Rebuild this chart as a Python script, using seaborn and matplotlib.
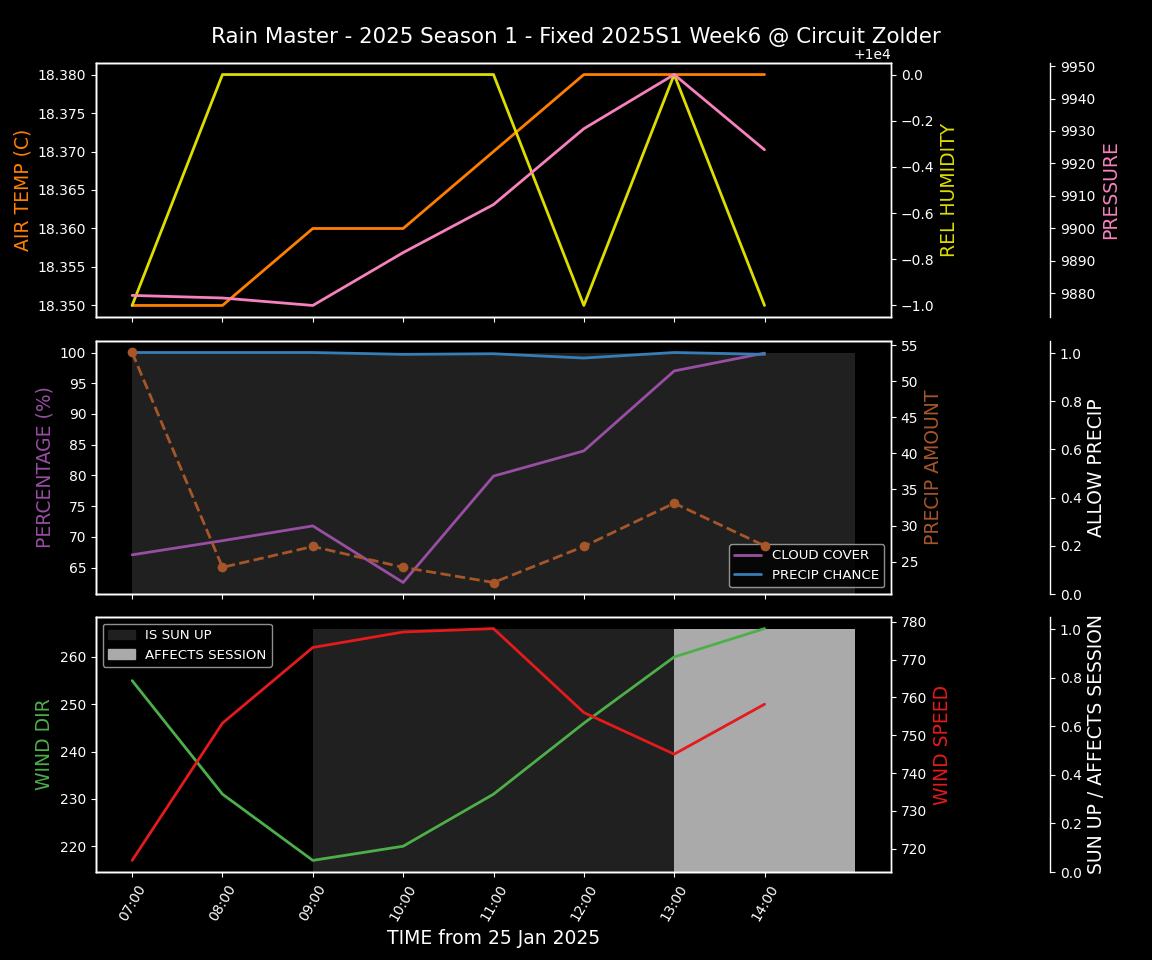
import matplotlib
matplotlib.use("Agg")
import matplotlib.pyplot as plt
import matplotlib.dates as mdates
from matplotlib.patches import Patch
import seaborn as sns
import pandas as pd

# ---------------- data ----------------
hours = ["07:00", "08:00", "09:00", "10:00", "11:00", "12:00", "13:00", "14:00"]
air_temp = [18.35, 18.35, 18.36, 18.36, 18.37, 18.38, 18.38, 18.38]
rel_humidity = [9999, 10000, 10000, 10000, 10000, 9999, 10000, 9999]
pressure = [9879.3, 9878.5, 9876.2, 9892.5, 9907.3, 9930.7, 9947.4, 9924.2]
cloud_cover = [67.1, 69.4, 71.8, 62.6, 79.9, 84.0, 97.0, 99.9]
precip_chance = [100.0, 100.0, 100.0, 99.7, 99.8, 99.1, 100.0, 99.7]
precip_amount = [54.0, 24.2, 27.1, 24.2, 22.1, 27.1, 33.1, 27.2]
allow_precip = [1, 1, 1, 1, 1, 1, 1, 1]
wind_dir = [255, 231, 217, 220, 231, 246, 260, 266]
wind_speed = [716.9, 753.2, 773.2, 777.3, 778.2, 756.0, 745.0, 758.2]
is_sun_up = [0, 0, 1, 1, 1, 1, 1, 1]
affects_session = [0, 0, 0, 0, 0, 0, 1, 1]
date_str = "2025-01-25"
title = "Rain Master - 2025 Season 1 - Fixed 2025S1 Week6 @ Circuit Zolder"

times = pd.to_datetime([f"{date_str} {h}" for h in hours])
# step fills extend one hour past the last sample
times_ext = list(times) + [times[-1] + pd.Timedelta(hours=1)]


def ext(v):
    return list(v) + [v[-1]]


df = pd.DataFrame({
    "time": times, "air_temp": air_temp, "rel_humidity": rel_humidity,
    "pressure": pressure, "cloud_cover": cloud_cover,
    "precip_chance": precip_chance, "precip_amount": precip_amount,
    "wind_dir": wind_dir, "wind_speed": wind_speed,
})

# ---------------- style ----------------
plt.style.use("dark_background")
sns.set_style("dark", {"axes.facecolor": "black", "figure.facecolor": "black",
                       "axes.edgecolor": "white", "text.color": "white",
                       "xtick.color": "white", "ytick.color": "white",
                       "axes.labelcolor": "white", "axes.grid": False,
                       "xtick.bottom": True, "ytick.left": True})
plt.rcParams["font.family"] = ["DejaVu Sans"]
plt.rcParams["axes.linewidth"] = 1.0

C_TEMP = "#ff7f00"
C_HUM = "#dddd00"
C_PRES = "#f781bf"
C_CLOUD = "#984ea3"
C_CHANCE = "#377eb8"
C_AMOUNT = "#a65628"
C_WDIR = "#4daf4a"
C_WSPD = "#e41a1c"
C_SUN = "#202020"
C_AFF = "#aaaaaa"
LW = 2
LFS = 13.5
LEGFS = 9.6

fig = plt.figure(figsize=(11.52, 9.6), dpi=100)
left, width = 96 / 1152, (891 - 96) / 1152
ax_top = fig.add_axes([left, 1 - 317 / 960, width, (317 - 63) / 960])
ax_mid = fig.add_axes([left, 1 - 594 / 960, width, (594 - 341) / 960], sharex=ax_top)
ax_bot = fig.add_axes([left, 1 - 872 / 960, width, (872 - 617) / 960], sharex=ax_top)


def third(ax):
    a = ax.twinx()
    a.spines["right"].set_position(("axes", 1.2))
    return a


# ---------------- top panel ----------------
sns.lineplot(data=df, x="time", y="air_temp", ax=ax_top, color=C_TEMP, lw=LW)
ax_top.set_ylabel("AIR TEMP (C)", color=C_TEMP, fontsize=LFS)
ax_t2 = ax_top.twinx()
sns.lineplot(data=df, x="time", y="rel_humidity", ax=ax_t2, color=C_HUM, lw=LW)
ax_t2.set_ylabel("REL HUMIDITY", color=C_HUM, fontsize=LFS)
ax_t3 = third(ax_top)
sns.lineplot(data=df, x="time", y="pressure", ax=ax_t3, color=C_PRES, lw=LW)
ax_t3.set_ylabel("PRESSURE", color=C_PRES, fontsize=LFS)

# ---------------- middle panel ----------------
ax_m3 = third(ax_mid)
ax_m3.fill_between(times_ext, 0, ext(allow_precip), step="post", color=C_SUN, lw=0)
ax_m3.set_ylim(0, 1.05)
ax_m3.set_ylabel("ALLOW PRECIP", color="white", fontsize=LFS)
sns.lineplot(data=df, x="time", y="cloud_cover", ax=ax_mid, color=C_CLOUD, lw=LW,
             label="CLOUD COVER")
sns.lineplot(data=df, x="time", y="precip_chance", ax=ax_mid, color=C_CHANCE, lw=LW,
             label="PRECIP CHANCE")
ax_mid.set_ylabel("PERCENTAGE (%)", color=C_CLOUD, fontsize=LFS)
ax_m2 = ax_mid.twinx()
sns.lineplot(data=df, x="time", y="precip_amount", ax=ax_m2, color=C_AMOUNT, lw=LW,
             linestyle="--", marker="o", markersize=7, markeredgewidth=0)
ax_m2.set_ylabel("PRECIP AMOUNT", color=C_AMOUNT, fontsize=LFS)
ax_m3.set_zorder(0)
ax_mid.set_zorder(1)
ax_m2.set_zorder(2)
ax_mid.patch.set_visible(False)
ax_m2.patch.set_visible(False)
ax_mid.legend(loc="lower right", facecolor="black", edgecolor="0.7", framealpha=0.8,
              fontsize=LEGFS)

# ---------------- bottom panel ----------------
ax_b3 = third(ax_bot)
ax_b3.fill_between(times_ext, 0, ext(is_sun_up), step="post", color=C_SUN, lw=0)
ax_b3.fill_between(times_ext, 0, ext(affects_session), step="post", color=C_AFF, lw=0)
ax_b3.set_ylim(0, 1.05)
ax_b3.set_ylabel("SUN UP / AFFECTS SESSION", color="white", fontsize=LFS)
sns.lineplot(data=df, x="time", y="wind_dir", ax=ax_bot, color=C_WDIR, lw=LW)
ax_bot.set_ylabel("WIND DIR", color=C_WDIR, fontsize=LFS)
ax_b2 = ax_bot.twinx()
sns.lineplot(data=df, x="time", y="wind_speed", ax=ax_b2, color=C_WSPD, lw=LW)
ax_b2.set_ylabel("WIND SPEED", color=C_WSPD, fontsize=LFS)
ax_b3.set_zorder(0)
ax_bot.set_zorder(1)
ax_b2.set_zorder(2)
ax_bot.patch.set_visible(False)
ax_b2.patch.set_visible(False)
handles = [Patch(color=C_SUN, label="IS SUN UP"), Patch(color=C_AFF, label="AFFECTS SESSION")]
ax_b2.legend(handles=handles, loc="upper left", facecolor="black", edgecolor="0.7",
             framealpha=0.8, fontsize=LEGFS)

# ---------------- x axis ----------------
ax_bot.set_xticks(times)
ax_bot.xaxis.set_major_formatter(mdates.DateFormatter("%H:%M"))
for a in (ax_top, ax_mid):
    a.tick_params(labelbottom=False)
    a.set_xlabel("")
ax_bot.tick_params(axis="x", labelrotation=60)
ax_bot.set_xlabel("TIME from 25 Jan 2025", fontsize=LFS)
for a in (ax_t2, ax_t3, ax_m2, ax_m3, ax_b2, ax_b3):
    a.set_xlabel("")

fig.suptitle(title, fontsize=15.4, y=0.972)
fig.savefig("out.png", dpi=100, facecolor="black")
